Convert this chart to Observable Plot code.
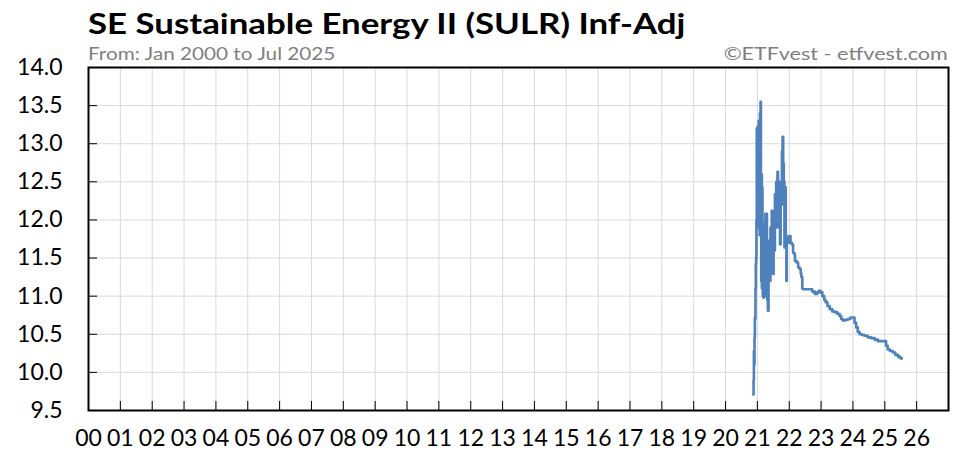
<!DOCTYPE html>
<html>
<head>
<meta charset="utf-8">
<script src="https://cdn.jsdelivr.net/npm/d3@7"></script>
<script src="https://cdn.jsdelivr.net/npm/@observablehq/plot@0.6"></script>
<style>
  html, body { margin: 0; padding: 0; background: #fff; }
  #wrap { position: relative; width: 965px; height: 465px; font-family: Lato, "Open Sans", sans-serif; }
  .hdr { position: absolute; white-space: nowrap; line-height: 1; z-index: 2; }
  #title { left: 88px; top: 8px; font-size: 29px; font-weight: bold; color: #000; transform: scaleX(1.2); transform-origin: left top; }
  #sub { left: 88px; top: 44px; font-size: 18px; color: #7f7f7f; transform: scaleX(1.15); transform-origin: left top; }
  #credit { right: 17px; top: 44px; font-size: 18px; color: #7f7f7f; transform: scaleX(1.2); transform-origin: right top; }
</style>
</head>
<body>
<div id="wrap">
  <div class="hdr" id="title">SE Sustainable Energy II (SULR) Inf-Adj</div>
  <div class="hdr" id="sub">From: Jan 2000 to Jul 2025</div>
  <div class="hdr" id="credit">©ETFvest - etfvest.com</div>
</div>
<script>
// decimal years
const years = [
  2020.87, 2020.88, 2020.89, 2020.90, 2020.91, 2020.92, 2020.93, 2020.94, 2020.95, 2020.96,
  2020.97, 2020.98, 2020.99, 2021.00, 2021.01, 2021.02, 2021.03, 2021.04, 2021.05, 2021.06,
  2021.07, 2021.08, 2021.09, 2021.10, 2021.11, 2021.12, 2021.13, 2021.14, 2021.15, 2021.16,
  2021.17, 2021.18, 2021.19, 2021.20, 2021.21, 2021.22, 2021.23, 2021.24, 2021.25, 2021.26,
  2021.27, 2021.28, 2021.29, 2021.30, 2021.31, 2021.32, 2021.33, 2021.35, 2021.37, 2021.39,
  2021.41, 2021.43, 2021.45, 2021.47, 2021.49, 2021.51, 2021.53, 2021.55, 2021.57, 2021.59,
  2021.61, 2021.63, 2021.65, 2021.67, 2021.69, 2021.71, 2021.73, 2021.75, 2021.77, 2021.79,
  2021.81, 2021.83, 2021.85, 2021.87, 2021.89, 2021.91, 2021.92, 2021.94, 2022.00, 2022.04,
  2022.08, 2022.12, 2022.16, 2022.18, 2022.24, 2022.28, 2022.32, 2022.36, 2022.38, 2022.41,
  2022.43, 2022.55, 2022.64, 2022.72, 2022.80, 2022.88, 2022.93, 2022.98, 2023.04, 2023.10,
  2023.14, 2023.20, 2023.27, 2023.35, 2023.42, 2023.50, 2023.58, 2023.63, 2023.68, 2023.76,
  2023.84, 2023.92, 2024.00, 2024.05, 2024.10, 2024.15, 2024.21, 2024.28, 2024.36, 2024.46,
  2024.57, 2024.68, 2024.78, 2024.88, 2024.99, 2025.04, 2025.09, 2025.16, 2025.25, 2025.33,
  2025.41, 2025.47, 2025.53
];
const values = [
  9.71, 9.90, 10.28, 10.10, 10.45, 10.72, 10.70, 11.10, 11.42, 11.50,
  12.00, 13.20, 12.30, 13.22, 11.90, 12.90, 12.20, 13.30, 12.50, 13.10,
  11.80, 13.40, 12.20, 13.55, 12.40, 11.20, 12.60, 11.10, 12.43, 11.40,
  11.00, 11.60, 10.98, 11.50, 11.90, 11.20, 11.95, 11.30, 12.08, 11.50,
  11.00, 11.70, 12.08, 11.20, 10.95, 11.50, 10.81, 11.30, 11.73, 11.20,
  11.90, 11.38, 12.12, 11.50, 11.29, 12.00, 11.60, 12.34, 11.90, 12.50,
  11.90, 12.63, 12.10, 12.00, 12.50, 11.68, 12.39, 12.20, 12.90, 13.09,
  12.74, 12.50, 11.64, 12.43, 11.80, 11.20, 11.77, 11.70, 11.79, 11.70,
  11.68, 11.57, 11.55, 11.46, 11.44, 11.38, 11.36, 11.30, 11.25, 11.10,
  11.09, 11.09, 11.09, 11.06, 11.03, 11.05, 11.07, 11.05, 11.00, 10.95,
  10.92, 10.87, 10.83, 10.80, 10.79, 10.77, 10.74, 10.70, 10.68, 10.69,
  10.70, 10.72, 10.72, 10.65, 10.59, 10.53, 10.50, 10.49, 10.48, 10.46,
  10.45, 10.43, 10.41, 10.41, 10.41, 10.35, 10.30, 10.28, 10.26, 10.23,
  10.21, 10.19, 10.18
];
const xTicks = [2000, 2001, 2002, 2003, 2004, 2005, 2006, 2007, 2008, 2009, 2010, 2011, 2012, 2013,
  2014, 2015, 2016, 2017, 2018, 2019, 2020, 2021, 2022, 2023, 2024, 2025, 2026];
const xGrid = xTicks.concat([2027]);
const yTicks = [9.5, 10.0, 10.5, 11.0, 11.5, 12.0, 12.5, 13.0, 13.5, 14.0];

const data = years.map((t, i) => ({t, v: values[i]}));

const chart = Plot.plot({
  width: 965,
  height: 465,
  marginLeft: 88,
  marginRight: 17,
  marginTop: 67,
  marginBottom: 55,
  style: {fontFamily: "Lato, 'Open Sans', sans-serif", fontSize: "22px", color: "#000", background: "transparent"},
  x: {domain: [2000, 2027]},
  y: {domain: [9.5, 14]},
  marks: [
    Plot.gridX(xGrid, {stroke: "#d9d9d9", strokeOpacity: 1, strokeWidth: 1}),
    Plot.gridY(yTicks, {stroke: "#d9d9d9", strokeOpacity: 1, strokeWidth: 1}),
    Plot.axisX(xTicks, {tickSize: -9, tickPadding: 28, label: null, stroke: "#000",
      tickFormat: d => String(d % 100).padStart(2, "0"), fontSize: 23}),
    Plot.axisY(yTicks, {tickSize: -9, tickPadding: 35, label: null, stroke: "#000",
      tickFormat: d3.format(".1f"), fontSize: 23}),
    Plot.line(data, {x: "t", y: "v", stroke: "#4f81bd", strokeWidth: 2.6, curve: "step-after"}),
    Plot.frame({stroke: "#000", strokeWidth: 2})
  ]
});
document.getElementById("wrap").appendChild(chart);
</script>
</body>
</html>
